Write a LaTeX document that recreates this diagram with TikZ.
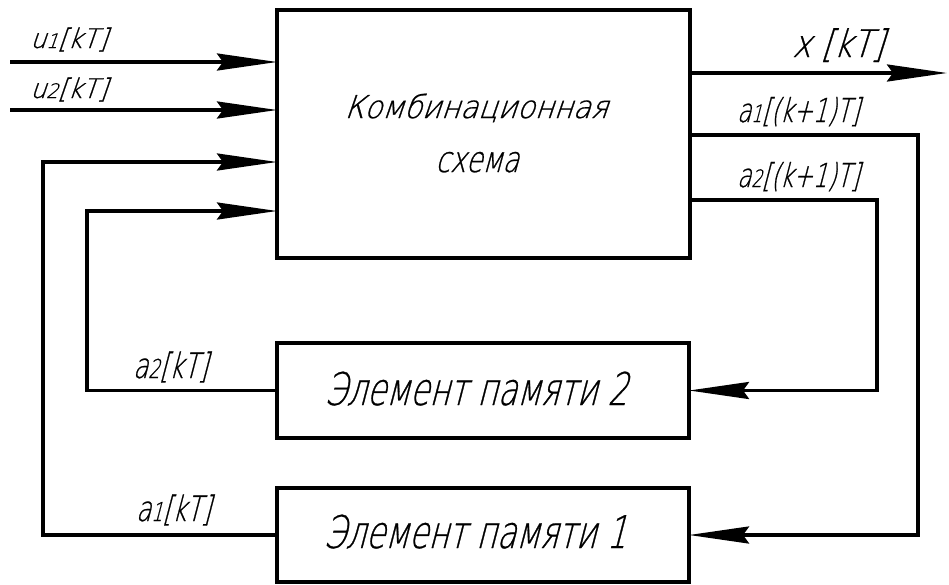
\documentclass[tikz,border=0pt]{standalone}
\usepackage{fontspec}
\setmainfont{DejaVu Sans ExtraLight}[FakeSlant=0.26,FakeStretch=0.7,FakeBold=0.6]
\usetikzlibrary{arrows.meta}
\newcommand{\fsz}[1]{\fontsize{#1}{#1}\selectfont}
% index digit set at the baseline, about x-height tall
\newcommand{\ix}[2]{{\fsz{#1}#2}}
\begin{document}
\begin{tikzpicture}[x=1pt,y=-1pt,
  blk/.style={draw,line width=3.5pt,inner sep=0pt,outer sep=0pt},
  wire/.style={line width=3.5pt},
  sig/.style={wire,-{Stealth[length=60pt,width=17pt,inset=6pt]}},
  lbl/.style={anchor=base west,inner sep=0pt,outer sep=0pt},
  txt/.style={anchor=base,inner sep=0pt,outer sep=0pt}]
\useasboundingbox (0,0) rectangle (949,584);

% blocks
\node[blk,minimum width=413pt,minimum height=248pt] (comb) at (483.5,134) {};
\node[blk,minimum width=412pt,minimum height=95pt] (mem2) at (483,390.5) {};
\node[blk,minimum width=412pt,minimum height=94pt] (mem1) at (483,535) {};

% block captions
\node[txt] (combA) at (476,118) {\scalebox{1.32}[1]{\fsz{31.5}Комбинационная}};
\node[txt] (combB) at (477,172) {\scalebox{1.06}[1]{\fsz{36}схема}};
\node[txt] (mem2t) at (476,405) {\fsz{45}Элемент памяти 2};
\node[txt] (mem1t) at (475,548) {\fsz{45}Элемент памяти 1};

% free ends and bends
\coordinate (u1s) at (10,62);
\coordinate (u2s) at (10,110);
\coordinate (fb1) at (43,162);
\coordinate (fb2) at (87,211);
\coordinate (xo)  at (947,73);
\coordinate (o1)  at (918,135);
\coordinate (o2)  at (877,200);

% inputs
\draw[sig] (u1s) -- (comb.west |- u1s);
\draw[sig] (u2s) -- (comb.west |- u2s);
% feedback from memory elements
\draw[sig] (mem1.west) -| (fb1) -- (comb.west |- fb1);
\draw[sig] (mem2.west) -| (fb2) -- (comb.west |- fb2);
% outputs
\draw[sig] (comb.east |- xo) -- (xo);
\draw[sig] (comb.east |- o1) -- (o1) |- (mem1.east);
\draw[sig] (comb.east |- o2) -- (o2) |- (mem2.east);

% signal labels
\node[lbl] (lu1) at (30,48) {\scalebox{1.33}[1]{\fsz{27}u\ix{20}{1}[kT]}};
\node[lbl] (lu2) at (30,98) {\scalebox{1.33}[1]{\fsz{27}u\ix{20}{2}[kT]}};
\node[lbl] (lx)  at (792,57) {\scalebox{1.2}[1]{\fsz{38}x [kT]}};
\node[lbl] (lo1) at (737,122) {\fsz{33}a\ix{24}{1}[(k+1)T]};
\node[lbl] (lo2) at (737,187) {\fsz{33}a\ix{24}{2}[(k+1)T]};
\node[lbl] (lf2) at (133,378) {\fsz{35}a\ix{26}{2}[kT]};
\node[lbl] (lf1) at (136,521) {\fsz{35}a\ix{26}{1}[kT]};
\end{tikzpicture}
\end{document}
